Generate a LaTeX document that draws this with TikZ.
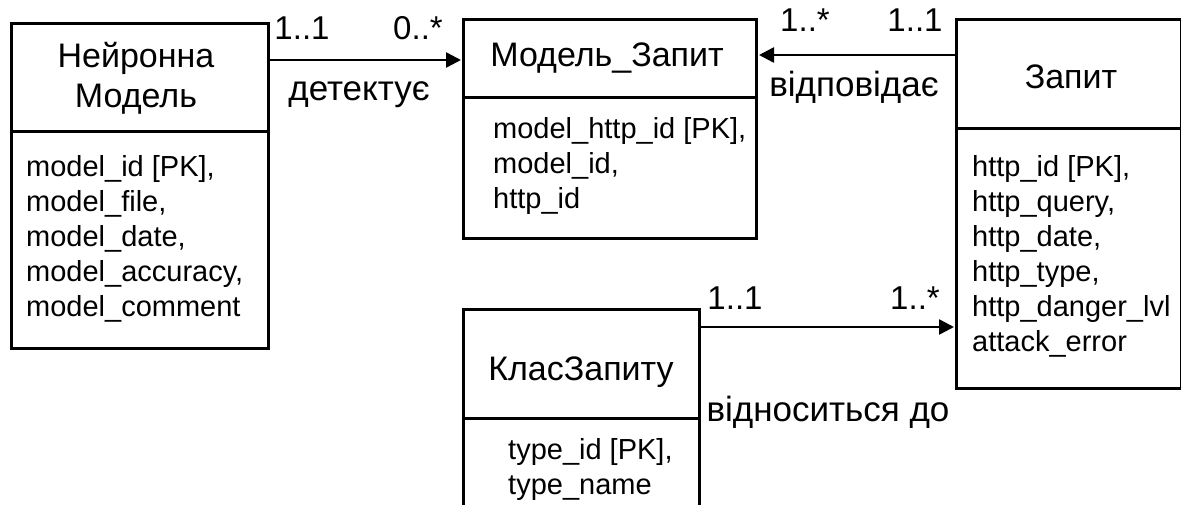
\documentclass[tikz,border=0pt]{standalone}
\usepackage{fontspec}
\setmainfont{Liberation Sans}
\usetikzlibrary{arrows.meta}
\begin{document}
\begin{tikzpicture}[x=1pt,y=-1pt,
  entity/.style={draw, line width=3pt, anchor=north west, inner sep=0pt},
  divider/.style={line width=3pt},
  title/.style={font=\fontsize{34}{40}\selectfont, align=center, inner sep=0pt},
  attrs/.style={font=\fontsize{29}{35}\selectfont, align=left, anchor=west, inner sep=0pt},
  mult/.style={font=\fontsize{33}{36}\selectfont, inner sep=0pt},
  rel/.style={font=\fontsize{35}{36}\selectfont, inner sep=0pt},
  link/.style={line width=2.5pt, -{Triangle[length=15pt,width=15pt]}, shorten >=1pt}]
\clip (0,0) rectangle (1181,504);

% entity frames
\node[entity, minimum width=257, minimum height=325] (nn) at (10,22) {};
\node[entity, minimum width=293, minimum height=219] (mz) at (462,18) {};
\node[entity, minimum width=225, minimum height=369] (zp) at (955,18) {};
\node[entity, minimum width=236, minimum height=240] (kz) at (462,308) {};

% header / attribute separators
\coordinate (d1) at (0,131);
\coordinate (d2) at (0,97);
\coordinate (d3) at (0,128);
\coordinate (d4) at (0,418);
\draw[divider] (nn.west |- d1) -- (nn.east |- d1);
\draw[divider] (mz.west |- d2) -- (mz.east |- d2);
\draw[divider] (zp.west |- d3) -- (zp.east |- d3);
\draw[divider] (kz.west |- d4) -- (kz.east |- d4);

% titles
\node[title] (nnt) at (136,78) {Нейронна\\Модель};
\node[title] (mzt) at (607,58) {Модель\_Запит};
\node[title] (zpt) at (1071,77) {Запит};
\node[title] (kzt) at (581,372) {КласЗапиту};

% attributes
\node[attrs] (nna) at (26,239) {model\_id [PK],\\model\_file,\\model\_date,\\model\_accuracy,\\model\_comment};
\node[attrs] (mza) at (493,166) {model\_http\_id [PK],\\model\_id,\\http\_id};
\node[attrs] (zpa) at (972,256) {http\_id [PK],\\http\_query,\\http\_date,\\http\_type,\\http\_danger\_lvl\\attack\_error};
\node[attrs] (kza) at (508,469) {type\_id [PK],\\type\_name};

% relationships
\coordinate (r1) at (0,60);
\coordinate (r2) at (0,55);
\coordinate (r3) at (0,327);
\draw[link] (nn.east |- r1) -- (mz.west |- r1);
\draw[link] (zp.west |- r2) -- (mz.east |- r2);
\draw[link] (kz.east |- r3) -- (zp.west |- r3);

% multiplicities and relationship names
\node[mult] (m1) at (302,28) {1..1};
\node[mult] (m2) at (418,28) {0..*};
\node[rel] (l1) at (359,95) {детектує};
\node[mult] (m3) at (805,20) {1..*};
\node[mult] (m4) at (915,20) {1..1};
\node[rel] (l2) at (854,87) {відповідає};
\node[mult] (m5) at (735,298) {1..1};
\node[mult] (m6) at (915,298) {1..*};
\node[rel] (l3) at (828,412) {відноситься до};
\end{tikzpicture}
\end{document}
